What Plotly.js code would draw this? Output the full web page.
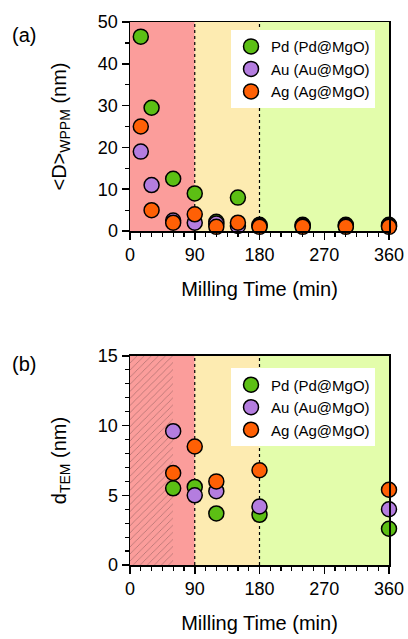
<!DOCTYPE html>
<html><head><meta charset="utf-8">
<script src="https://cdn.plot.ly/plotly-3.0.1.min.js"></script>
<style>body{margin:0;background:#fff}#c{width:408px;height:639px}</style>
</head><body><div id="c"></div>
<script>
// Panel (a): WPPM crystallite size
const timeA = [15, 30, 60, 90, 120, 150, 180, 240, 300, 360];
const pdA = [46.5, 29.5, 12.5, 9, 2.2, 8, 1.5, 1.5, 1.5, 1.5];
const auA = [19, 11, 2.5, 2, 1.8, 1.2, 1.2, 1.2, 1.2, 1.2];
const agA = [25, 5, 2, 4, 1, 2, 1, 1, 1, 1];
// Panel (b): TEM particle size
const timeB = [60, 90, 120, 180, 360];
const pdB = [5.5, 5.6, 3.7, 3.6, 2.6];
const auB = [9.6, 5.0, 5.3, 4.2, 4.0];
const agB = [6.6, 8.5, 6.0, 6.8, 5.4];
const names = ['Pd (Pd@MgO)', 'Au (Au@MgO)', 'Ag (Ag@MgO)'];
const xTicks = [0, 90, 180, 270, 360];
const regionEdges = [0, 90, 180, 360];
const hatchEnd = 60;

const colors = ['#5cbf14', '#b47ddf', '#ff6005'];
const regionColors = ['#fb9d9b', '#fdebb1', '#e3fdab'];
const font = '"Liberation Sans", Arial, sans-serif';

function mk(x, y, i, xa, ya, leg, show) {
  return {x: x, y: y, type: 'scatter', mode: 'markers', name: names[i], xaxis: xa, yaxis: ya,
    legend: leg, showlegend: show, cliponaxis: false,
    marker: {size: 15, color: colors[i], line: {color: '#000', width: 1.5}}};
}

const traces = [
  {x: [hatchEnd / 2], y: [15], width: [hatchEnd], type: 'bar', xaxis: 'x2', yaxis: 'y2', showlegend: false,
   hoverinfo: 'skip',
   marker: {color: 'rgba(0,0,0,0)', line: {width: 0},
     pattern: {shape: '/', fgcolor: '#8a5a5a', bgcolor: 'rgba(0,0,0,0)', size: 5, solidity: 0.1}}},
  mk(timeA, pdA, 0, 'x', 'y', 'legend', true),
  mk(timeA, auA, 1, 'x', 'y', 'legend', true),
  mk(timeA, agA, 2, 'x', 'y', 'legend', true),
  mk(timeB, pdB, 0, 'x2', 'y2', 'legend2', true),
  mk(timeB, auB, 1, 'x2', 'y2', 'legend2', true),
  mk(timeB, agB, 2, 'x2', 'y2', 'legend2', true)
];

const shapes = [];
['x', 'x2'].forEach((xr, k) => {
  const yr = k === 0 ? 'y domain' : 'y2 domain';
  for (let i = 0; i < 3; i++) {
    shapes.push({type: 'rect', xref: xr, yref: yr, x0: regionEdges[i], x1: regionEdges[i + 1], y0: 0, y1: 1,
      fillcolor: regionColors[i], line: {width: 0}, layer: 'below'});
  }
  [90, 180].forEach(v => shapes.push({type: 'line', xref: xr, yref: yr, x0: v, x1: v, y0: 0, y1: 1,
    line: {color: '#000', width: 1.2, dash: 'dot'}, layer: 'below'}));
});

function xax(anchor) {
  return {anchor: anchor, range: [0, 360], tickvals: xTicks, ticks: 'outside', ticklen: 7, tickwidth: 1.5,
    tickcolor: '#000', showline: true, linecolor: '#000', linewidth: 1.5, mirror: true, showgrid: false,
    zeroline: false, tickfont: {size: 18, family: font, color: '#000'},
    minor: {dtick: 15, ticks: 'outside', ticklen: 4, tickwidth: 1.2, tickcolor: '#000', showgrid: false},
    title: {text: 'Milling Time (min)', font: {size: 20, family: font, color: '#000'}, standoff: 18}};
}
function yax(anchor, domain, range, dtick, minorDtick, title) {
  return {anchor: anchor, domain: domain, range: range, dtick: dtick, ticks: 'outside', ticklen: 7, tickwidth: 1.5,
    tickcolor: '#000', showline: true, linecolor: '#000', linewidth: 1.5, mirror: true, showgrid: false,
    zeroline: false, tickfont: {size: 18, family: font, color: '#000'},
    minor: {dtick: minorDtick, ticks: 'outside', ticklen: 4, tickwidth: 1.2, tickcolor: '#000', showgrid: false},
    title: {text: title, font: {size: 20, family: font, color: '#000'}, standoff: 26}};
}

const legendStyle = {bgcolor: '#fff', borderwidth: 0, font: {size: 15, family: font, color: '#000'},
  xanchor: 'right', yanchor: 'top', tracegroupgap: 0, itemwidth: 30};

const layout = {
  width: 408, height: 639,
  margin: {l: 130, r: 19, t: 22, b: 74},
  paper_bgcolor: '#fff', plot_bgcolor: '#fff',
  showlegend: true, bargap: 0,
  xaxis: xax('y'),
  yaxis: yax('x', [0.615, 1], [0, 50], 10, 5, '<D><sub>WPPM</sub> (nm)'),
  xaxis2: xax('y2'),
  yaxis2: yax('x2', [0, 0.385], [0, 15], 5, 1, 'd<sub>TEM</sub> (nm)'),
  legend: Object.assign({x: 0.946, y: 0.985}, legendStyle),
  legend2: Object.assign({x: 0.946, y: 0.362}, legendStyle),
  shapes: shapes,
  annotations: [
    {text: '(a)', xref: 'paper', yref: 'paper', x: -0.465, y: 1.0, xanchor: 'left', yanchor: 'top', showarrow: false,
     font: {size: 20, family: font, color: '#000'}},
    {text: '(b)', xref: 'paper', yref: 'paper', x: -0.465, y: 0.395, xanchor: 'left', yanchor: 'top', showarrow: false,
     font: {size: 20, family: font, color: '#000'}}
  ]
};

Plotly.newPlot('c', traces, layout, {displayModeBar: false, staticPlot: true});
</script></body></html>
